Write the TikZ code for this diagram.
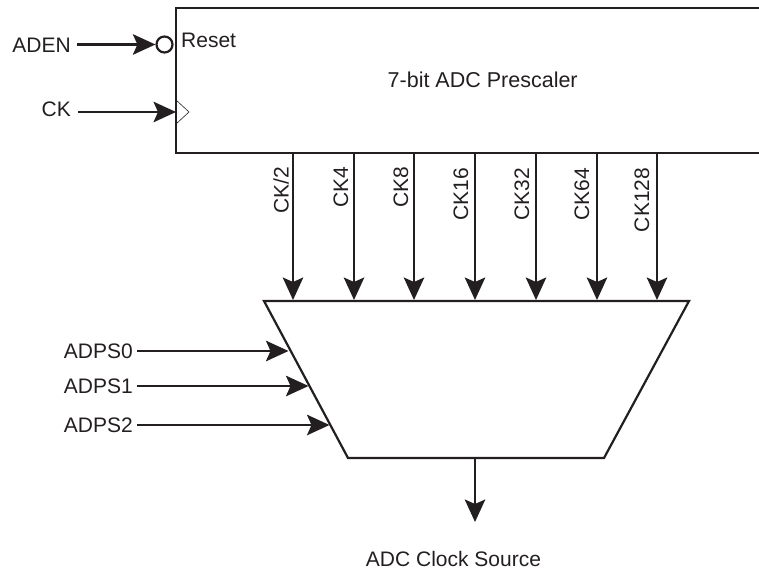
\documentclass[tikz,border=0pt]{standalone}
\usepackage{fontspec}
\setmainfont{Liberation Sans}
\usetikzlibrary{arrows.meta}
\definecolor{ink}{HTML}{231F20}
\tikzset{
  x=1pt,y=-1pt,
  wire/.style={draw=ink,line width=2.2pt,-{Stealth[length=22.5pt,width=20.5pt,inset=4.5pt]}},
  body/.style={draw=ink,line width=2.2pt,line join=miter},
  lbl/.style={text=ink,font=\fontsize{21}{24}\selectfont,inner sep=0pt},
  vlbl/.style={lbl,rotate=90}
}
\begin{document}
\begin{tikzpicture}
\useasboundingbox (0,0) rectangle (759,569);
% prescaler block (runs off the right edge)
\draw[body] (759,8) -- (176,8) -- (176,153) -- (759,153);
\draw[draw=ink,line width=0.6pt] (176,100) -- (189,112) -- (176,124);
\node[lbl,anchor=west,font=\fontsize{21.5}{24}\selectfont] (title) at (387.5,80) {7-bit ADC Prescaler};
\node[lbl,anchor=west] (reset) at (181,40) {Reset};
% inputs
\node[lbl,anchor=east] (aden) at (71,45) {ADEN};
\node[lbl,anchor=east] (ck) at (71,109) {CK};
\node[circle,draw=ink,line width=2.2pt,minimum size=16pt,inner sep=0pt] (bub) at (164.5,44.5) {};
\coordinate (ckin) at (176,112);
\draw[wire] (77,44.5) -- (bub.west);
\draw[wire] (78,112) -- (ckin);
% mux
\coordinate (m1) at (264,301);
\coordinate (m2) at (689,301);
\coordinate (m3) at (604,458);
\coordinate (m4) at (348,458);
\draw[body] (m1) -- (m2) -- (m3) -- (m4) -- cycle;
% taps
\foreach \x/\n/\t/\c/\lx in {293/a/CK\slash 2/190/281,354/b/CK4/187.5/341,414/c/CK8/187.5/401,475/d/CK16/194/461,536/e/CK32/194/522,597/f/CK64/194/582,657/g/CK128/200/642}{
  \coordinate (top\n) at (\x,153);
  \coordinate (bot\n) at (\x,300);
  \draw[wire] (top\n) -- (bot\n);
  \node[vlbl] (l\n) at (\lx,\c) {\t};
}
% selects
\node[lbl,anchor=east] (s0) at (133,351) {ADPS0};
\node[lbl,anchor=east] (s1) at (133,386.5) {ADPS1};
\node[lbl,anchor=east] (s2) at (133,425) {ADPS2};
\coordinate (e0) at (288.5,351);
\coordinate (e1) at (308.5,386);
\coordinate (e2) at (329.5,425);
\draw[wire] (137,351) -- (e0);
\draw[wire] (137,386) -- (e1);
\draw[wire] (137,425) -- (e2);
% output
\coordinate (outtop) at (475,458);
\coordinate (outend) at (475,522);
\draw[wire] (outtop) -- (outend);
\node[lbl] (src) at (453.5,558.5) {ADC Clock Source};
\end{tikzpicture}
\end{document}
